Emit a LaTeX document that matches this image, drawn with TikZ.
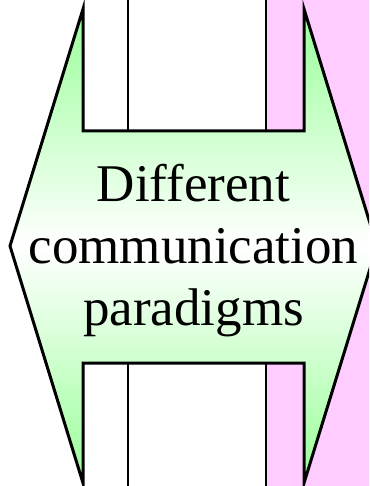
\documentclass[tikz,border=0pt]{standalone}
\usepackage{fontspec}
\setmainfont{Liberation Serif}
\definecolor{lilac}{RGB}{255,204,255}
\definecolor{mint}{RGB}{153,255,153}
\begin{document}
\begin{tikzpicture}[x=1pt,y=-1pt,
  outline/.style={draw,line width=3pt},
  colline/.style={line width=2.2pt},
  bigtext/.style={font=\fontsize{53}{62}\selectfont,align=center}]
\useasboundingbox (0,0) rectangle (369,486);
\clip (0,0) rectangle (369,486);
% columns behind
\fill[lilac] (266,0) rectangle (369,486);
\draw[colline] (128,0) -- (128,486);
\draw[colline] (266,0) -- (266,486);
% double arrow
\draw[outline,top color=mint,bottom color=mint,middle color=white]
  (83,9) -- (83,131) -- (304,131) -- (304,9) -- (377,246) -- (304,483)
  -- (304,363) -- (83,363) -- (83,483) -- (10,246) -- cycle;
\node[bigtext] (label) at (193.5,251) {Different\\communication\\paradigms};
\end{tikzpicture}
\end{document}
